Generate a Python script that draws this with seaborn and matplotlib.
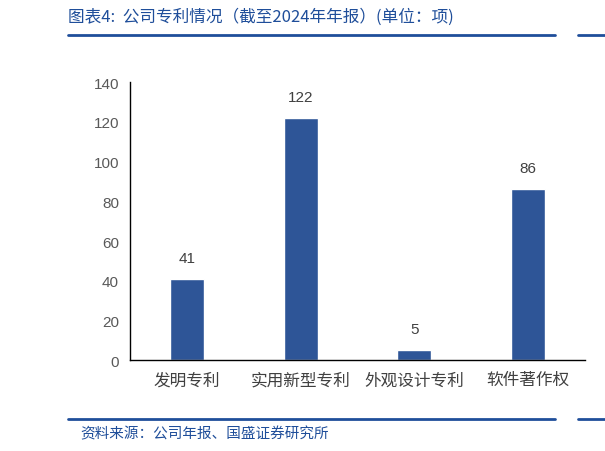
import matplotlib
matplotlib.use("Agg")
import matplotlib.pyplot as plt
import seaborn as sns
import pandas as pd

categories = ["发明专利", "实用新型专利", "外观设计专利", "软件著作权"]
values = [41, 122, 5, 86]
yticks = [0, 20, 40, 60, 80, 100, 120, 140]

sns.set_style("white")
plt.rcParams['font.family'] = ['Noto Sans CJK SC', 'DejaVu Sans']

df = pd.DataFrame({"cat": categories, "val": values})

fig = plt.figure(figsize=(6.05, 4.52), dpi=100)
ax = fig.add_axes([0.215, 0.201, 0.752, 0.615])
sns.barplot(data=df, x="cat", y="val", color="#2E5597", width=0.3, ax=ax, saturation=1)

ax.set_ylim(0, 140)
ax.set_xlim(-0.5, 3.5)
ax.set_yticks(yticks)
ax.set_xlabel("")
ax.set_ylabel("")
for s in ["top", "right"]:
    ax.spines[s].set_visible(False)
for s in ["left", "bottom"]:
    ax.spines[s].set_color("black")
    ax.spines[s].set_linewidth(1.0)

ax.tick_params(axis="y", direction="out", length=4, width=1, colors="black", labelcolor="#595959", labelsize=11, pad=4)
ax.tick_params(axis="x", which="major", length=0, labelcolor="#404040", labelsize=12, pad=8)
ax.set_xticks([0.5, 1.5, 2.5], minor=True)
ax.tick_params(axis="x", which="minor", direction="in", length=4, width=1, colors="black")
for lbl in ax.get_yticklabels():
    lbl.set_family(['Liberation Sans', 'DejaVu Sans'])
for lbl in ax.get_xticklabels():
    lbl.set_fontweight("light")

for i, v in enumerate(values):
    ax.text(i, v + 7, str(v), ha="center", va="bottom", fontsize=11, color="#404040",
            family=['Liberation Sans', 'DejaVu Sans'])

blue = "#1F4E9A"
fig.text(68 / 605, 1 - 17 / 452, "图表4:  公司专利情况（截至2024年年报）(单位：项)", fontsize=12,
         color=blue, style="italic", va="center", ha="left")
fig.add_artist(plt.Line2D([68 / 605, 555 / 605], [1 - 36 / 452, 1 - 36 / 452], color="#1F4E9A", lw=2))
fig.add_artist(plt.Line2D([578 / 605, 605 / 605], [1 - 36 / 452, 1 - 36 / 452], color="#1F4E9A", lw=2))
fig.add_artist(plt.Line2D([68 / 605, 555 / 605], [1 - 420 / 452, 1 - 420 / 452], color="#1F4E9A", lw=2))
fig.add_artist(plt.Line2D([578 / 605, 605 / 605], [1 - 420 / 452, 1 - 420 / 452], color="#1F4E9A", lw=2))
fig.text(80 / 605, 1 - 434 / 452, "资料来源：公司年报、国盛证券研究所", fontsize=10.5,
         color=blue, style="italic", va="center", ha="left")

fig.savefig("out.png", dpi=100)
